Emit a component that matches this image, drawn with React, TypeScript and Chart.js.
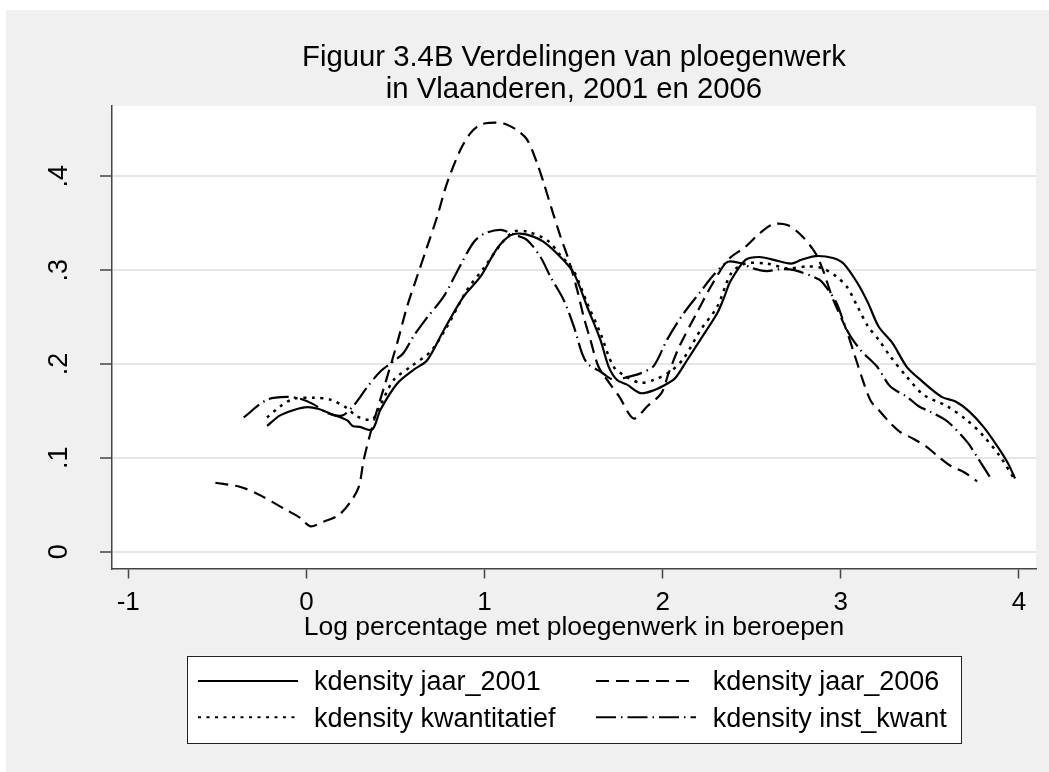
import { useEffect, useRef } from "react";
import { Chart, registerables } from "chart.js";

Chart.register(...registerables);

const FONT = "'Liberation Sans', Arial, Helvetica, sans-serif";

const titleLines = ["Figuur 3.4B Verdelingen van ploegenwerk", "in Vlaanderen, 2001 en 2006"];
const xAxisTitle = "Log percentage met ploegenwerk in beroepen";
const xTickValues = [-1, 0, 1, 2, 3, 4];
const xTickLabels = ["-1", "0", "1", "2", "3", "4"];
const yTickValues = [0, 0.1, 0.2, 0.3, 0.4];
const yTickLabels = ["0", ".1", ".2", ".3", ".4"];
const seriesLabels = [
  "kdensity jaar_2001",
  "kdensity jaar_2006",
  "kdensity kwantitatief",
  "kdensity inst_kwant",
];

// kdensity jaar_2001 (solid)
const x2001 = [-0.221, -0.15, -0.07, 0.004, 0.07, 0.135, 0.228, 0.26, 0.3, 0.369, 0.415, 0.509, 0.603, 0.678, 0.771, 0.883, 0.977, 1.07, 1.145, 1.201, 1.27, 1.332, 1.426, 1.501, 1.576, 1.65, 1.697, 1.744, 1.8, 1.875, 1.95, 2.025, 2.071, 2.137, 2.212, 2.306, 2.347, 2.38, 2.465, 2.543, 2.622, 2.72, 2.779, 2.858, 2.956, 3.015, 3.094, 3.153, 3.212, 3.291, 3.37, 3.448, 3.566, 3.644, 3.723, 3.801, 3.88, 3.939, 3.978];
const y2001 = [0.134, 0.145, 0.151, 0.154, 0.152, 0.147, 0.14, 0.134, 0.133, 0.13, 0.151, 0.179, 0.194, 0.204, 0.236, 0.272, 0.293, 0.323, 0.337, 0.339, 0.336, 0.33, 0.314, 0.297, 0.261, 0.226, 0.197, 0.183, 0.178, 0.169, 0.172, 0.179, 0.185, 0.204, 0.226, 0.254, 0.272, 0.288, 0.311, 0.314, 0.311, 0.307, 0.311, 0.315, 0.313, 0.307, 0.286, 0.265, 0.24, 0.222, 0.197, 0.183, 0.165, 0.16, 0.149, 0.133, 0.112, 0.094, 0.078];

// kdensity jaar_2006 (dashed)
const x2006 = [-0.511, -0.37, -0.258, -0.127, -0.034, 0.022, 0.097, 0.181, 0.247, 0.294, 0.322, 0.359, 0.397, 0.453, 0.509, 0.565, 0.621, 0.678, 0.734, 0.79, 0.864, 0.921, 0.977, 1.033, 1.08, 1.127, 1.183, 1.239, 1.295, 1.332, 1.379, 1.426, 1.472, 1.52, 1.557, 1.594, 1.64, 1.7, 1.757, 1.837, 1.914, 1.993, 2.033, 2.092, 2.19, 2.269, 2.367, 2.465, 2.543, 2.622, 2.7, 2.779, 2.858, 2.9, 2.95, 3.0, 3.03, 3.08, 3.13, 3.17, 3.213, 3.278, 3.33, 3.4, 3.48, 3.55, 3.62, 3.69, 3.765];
const y2006 = [0.0735, 0.069, 0.06, 0.046, 0.036, 0.027, 0.032, 0.039, 0.053, 0.069, 0.098, 0.126, 0.151, 0.186, 0.222, 0.261, 0.293, 0.325, 0.357, 0.393, 0.428, 0.446, 0.455, 0.457, 0.457, 0.455, 0.449, 0.439, 0.414, 0.393, 0.364, 0.336, 0.311, 0.279, 0.25, 0.226, 0.197, 0.18, 0.165, 0.142, 0.155, 0.169, 0.19, 0.218, 0.254, 0.282, 0.311, 0.325, 0.339, 0.349, 0.348, 0.337, 0.318, 0.3, 0.272, 0.25, 0.237, 0.208, 0.179, 0.16, 0.151, 0.137, 0.128, 0.121, 0.112, 0.101, 0.091, 0.085, 0.075];

// kdensity kwantitatief (dotted)
const xKwant = [-0.221, -0.146, -0.071, 0.041, 0.135, 0.228, 0.285, 0.369, 0.415, 0.49, 0.584, 0.696, 0.79, 0.902, 0.995, 1.089, 1.164, 1.239, 1.351, 1.426, 1.501, 1.576, 1.65, 1.725, 1.8, 1.876, 1.95, 2.043, 2.118, 2.212, 2.306, 2.386, 2.465, 2.583, 2.7, 2.818, 2.897, 2.976, 3.035, 3.094, 3.153, 3.212, 3.278, 3.372, 3.466, 3.597, 3.709, 3.802, 3.896, 3.978];
const yKwant = [0.143, 0.155, 0.163, 0.164, 0.162, 0.153, 0.144, 0.141, 0.156, 0.183, 0.197, 0.213, 0.24, 0.279, 0.302, 0.327, 0.341, 0.341, 0.332, 0.316, 0.299, 0.265, 0.233, 0.197, 0.186, 0.18, 0.183, 0.192, 0.206, 0.236, 0.261, 0.297, 0.307, 0.307, 0.302, 0.304, 0.302, 0.293, 0.282, 0.261, 0.24, 0.226, 0.208, 0.186, 0.167, 0.155, 0.14, 0.123, 0.101, 0.076];

// kdensity inst_kwant (dash-dot)
const xInst = [-0.352, -0.221, -0.108, -0.034, 0.041, 0.116, 0.2, 0.266, 0.34, 0.415, 0.49, 0.546, 0.603, 0.68, 0.771, 0.864, 0.94, 1.0, 1.089, 1.164, 1.239, 1.314, 1.37, 1.445, 1.501, 1.548, 1.58, 1.65, 1.725, 1.8, 1.875, 1.95, 2.025, 2.118, 2.212, 2.287, 2.367, 2.445, 2.504, 2.583, 2.66, 2.739, 2.878, 2.917, 2.976, 3.035, 3.11, 3.204, 3.278, 3.372, 3.437, 3.503, 3.597, 3.709, 3.765, 3.849];
const yInst = [0.143, 0.162, 0.165, 0.163, 0.157, 0.148, 0.145, 0.156, 0.175, 0.192, 0.203, 0.212, 0.23, 0.25, 0.272, 0.305, 0.33, 0.339, 0.343, 0.338, 0.332, 0.314, 0.293, 0.268, 0.24, 0.211, 0.2, 0.192, 0.183, 0.186, 0.19, 0.198, 0.226, 0.254, 0.277, 0.295, 0.309, 0.307, 0.302, 0.299, 0.301, 0.3, 0.29, 0.282, 0.265, 0.236, 0.215, 0.197, 0.176, 0.165, 0.155, 0.149, 0.139, 0.117, 0.101, 0.076];

const X_MIN = -1.0913;
const X_MAX = 4.0957;
const Y_MIN = -0.0179;
const Y_MAX = 0.475;

function zip(xs: number[], ys: number[]) {
  const n = Math.min(xs.length, ys.length);
  const out: { x: number; y: number }[] = [];
  for (let i = 0; i < n; i++) out.push({ x: xs[i], y: ys[i] });
  return out;
}

const bgPlugin = {
  id: "stataBg",
  beforeDraw(chart: any) {
    const { ctx, width, height, chartArea } = chart;
    ctx.save();
    ctx.fillStyle = "#f0f0f0";
    ctx.fillRect(0, 0, width, height);
    ctx.fillStyle = "#ffffff";
    ctx.fillRect(chartArea.left, chartArea.top, chartArea.right - chartArea.left, chartArea.bottom - chartArea.top);
    ctx.restore();
  },
};

const legendBoxPlugin = {
  id: "legendBox",
  afterDraw(chart: any, _args: any, opts: any) {
    const ctx = chart.ctx;
    ctx.save();
    ctx.fillStyle = "#ffffff";
    ctx.fillRect(opts.left, opts.top, opts.width, opts.height);
    ctx.strokeStyle = "#222222";
    ctx.lineWidth = 1;
    ctx.strokeRect(Math.round(opts.left) + 0.5, Math.round(opts.top) + 0.5, Math.round(opts.width), Math.round(opts.height));
    ctx.font = `${opts.fontSize}px ${FONT}`;
    ctx.textBaseline = "middle";
    ctx.textAlign = "left";
    chart.data.datasets.forEach((ds: any, i: number) => {
      const col = i % 2;
      const row = Math.floor(i / 2);
      const y = opts.rowY[row];
      const x0 = opts.sampleX[col];
      ctx.beginPath();
      ctx.setLineDash(ds.borderDash || []);
      ctx.lineWidth = Math.min(ds.borderWidth, 2);
      ctx.strokeStyle = ds.borderColor;
      ctx.lineCap = "butt";
      ctx.moveTo(x0, y - 2);
      ctx.lineTo(x0 + opts.sampleLen, y - 2);
      ctx.stroke();
      ctx.setLineDash([]);
      ctx.fillStyle = "#000000";
      ctx.fillText(ds.label, opts.textX[col], y);
    });
    ctx.restore();
  },
};

export default function App() {
  const ref = useRef<HTMLCanvasElement>(null);

  useEffect(() => {
    const canvas = ref.current;
    if (!canvas) return;
    const lineBase = {
      borderColor: "#000000",
      pointRadius: 0,
      pointHoverRadius: 0,
      fill: false,
      tension: 0.3,
      borderCapStyle: "butt" as const,
    };
    const chart = new Chart(canvas, {
      type: "line",
      data: {
        datasets: [
          { ...lineBase, label: seriesLabels[0], data: zip(x2001, y2001), borderWidth: 2.2, borderDash: [] },
          { ...lineBase, label: seriesLabels[1], data: zip(x2006, y2006), borderWidth: 2.2, borderDash: [13, 7] },
          { ...lineBase, label: seriesLabels[2], data: zip(xKwant, yKwant), borderWidth: 2.5, borderDash: [3, 5.5] },
          { ...lineBase, label: seriesLabels[3], data: zip(xInst, yInst), borderWidth: 2.2, borderDash: [20, 5, 1.5, 5] },
        ],
      },
      plugins: [bgPlugin, legendBoxPlugin],
      options: {
        responsive: false,
        animation: false,
        devicePixelRatio: 1,
        events: [],
        layout: { padding: { left: 0, top: 0, right: 13, bottom: 113.5 } },
        scales: {
          x: {
            type: "linear",
            min: X_MIN,
            max: X_MAX,
            afterBuildTicks: (scale: any) => {
              scale.ticks = xTickValues.map((v) => ({ value: v }));
            },
            afterFit: (scale: any) => {
              scale.height = 90;
            },
            ticks: {
              autoSkip: false,
              minRotation: 0,
              maxRotation: 0,
              padding: 11,
              color: "#000000",
              font: { family: FONT, size: 26, lineHeight: 1 },
              callback: (v: any) => {
                const i = xTickValues.indexOf(Number(v));
                return i >= 0 ? xTickLabels[i] : "";
              },
            },
            grid: { drawOnChartArea: false, drawTicks: true, tickLength: 10, tickColor: "#444444", tickWidth: 1.5 },
            border: { display: true, color: "#444444", width: 1.5 },
            title: {
              display: true,
              text: xAxisTitle,
              color: "#000000",
              font: { family: FONT, size: 26.5, lineHeight: 1 },
              padding: { top: 0, bottom: 18 },
            },
          },
          y: {
            type: "linear",
            min: Y_MIN,
            max: Y_MAX,
            afterBuildTicks: (scale: any) => {
              scale.ticks = yTickValues.map((v) => ({ value: v }));
            },
            afterFit: (scale: any) => {
              scale.width = 106;
            },
            ticks: {
              autoSkip: false,
              minRotation: 90,
              maxRotation: 90,
              crossAlign: "center",
              padding: 28.7,
              color: "#000000",
              font: { family: FONT, size: 27, lineHeight: 1 },
              callback: (v: any) => {
                const i = yTickValues.indexOf(Number(v));
                return i >= 0 ? yTickLabels[i] : "";
              },
            },
            grid: { color: "#e6e6e6", lineWidth: 2, drawTicks: true, tickLength: 12, tickColor: "#444444", tickWidth: 1.5 },
            border: { display: true, color: "#444444", width: 1.5 },
          },
        },
        plugins: {
          legend: { display: false },
          tooltip: { enabled: false },
          title: {
            display: true,
            text: titleLines,
            fullSize: false,
            color: "#000000",
            font: { family: FONT, size: 29.3, lineHeight: 1.082, weight: "normal" },
            padding: { top: 32.5, bottom: 0 },
          },
          legendBox: {
            left: 180.7,
            top: 645.7,
            width: 774.3,
            height: 87,
            fontSize: 27,
            rowY: [673, 709.2],
            sampleX: [192, 590],
            sampleLen: 100,
            textX: [308, 706.7],
          },
        } as any,
      },
    });
    return () => chart.destroy();
  }, []);

  return (
    <div style={{ position: "absolute", left: 0, top: 0, width: 1049, height: 772, background: "#ffffff", overflow: "hidden" }}>
      <canvas
        ref={ref}
        width={1043}
        height={762}
        style={{ position: "absolute", left: 6, top: 10, width: 1043, height: 762 }}
      />
    </div>
  );
}
